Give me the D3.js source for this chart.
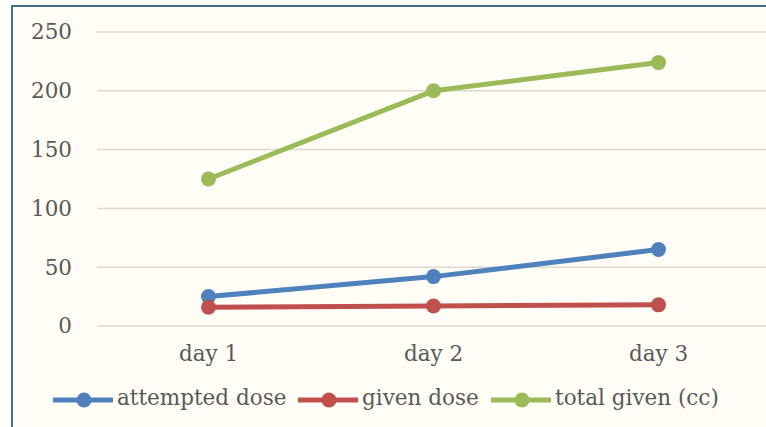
<!DOCTYPE html>
<html>
<head>
<meta charset="utf-8">
<script src="https://cdn.jsdelivr.net/npm/d3@7"></script>
<style>
  body { margin: 0; background: #ffffff; }
  text { font-family: "DejaVu Serif", serif; fill: #595959; }
</style>
</head>
<body>
<figure style="margin:0"></figure>
<script>
const days = ["day 1", "day 2", "day 3"];
const yTicks = [0, 50, 100, 150, 200, 250];
const seriesNames = ["attempted dose", "given dose", "total given (cc)"];
const attempted = [25, 42, 65];
const given = [16, 17, 18];
const totalGiven = [125, 200, 224];
const colours = ["#4f81bd", "#c0504d", "#9bbb59"];

const width = 766;
const height = 427;
const fontSize = "21.5px";

const svg = d3.select("figure").append("svg")
  .attr("width", width)
  .attr("height", height);

// chart area background + frame
svg.append("rect")
  .attr("x", 12).attr("y", 6)
  .attr("width", width + 10).attr("height", height + 10)
  .attr("fill", "#fffdf6")
  .attr("stroke", "#44708a")
  .attr("stroke-width", 2);

const x = d3.scaleBand().domain(days).range([96, 771]);
const y = d3.scaleLinear().domain([0, 250]).range([326, 32]);

// gridlines
svg.append("g")
  .selectAll("line")
  .data(yTicks)
  .join("line")
  .attr("x1", 97).attr("x2", width)
  .attr("y1", d => y(d)).attr("y2", d => y(d))
  .attr("stroke", "#ddd7d0")
  .attr("stroke-width", 1.5);

const yAxis = d3.axisLeft(y).tickValues(yTicks).tickSize(0).tickPadding(0);
svg.append("g")
  .attr("transform", "translate(72,0)")
  .call(yAxis)
  .call(g => g.select(".domain").remove())
  .selectAll("text")
  .style("font-family", "DejaVu Serif, serif")
  .style("font-size", fontSize)
  .attr("fill", "#595959");

const xAxis = d3.axisBottom(x).tickSize(0).tickPadding(0);
svg.append("g")
  .attr("transform", "translate(0,346)")
  .call(xAxis)
  .call(g => g.select(".domain").remove())
  .selectAll("text")
  .style("font-family", "DejaVu Serif, serif")
  .style("font-size", fontSize)
  .attr("fill", "#595959");

const series = [attempted, given, totalGiven].map((vals, i) => ({
  name: seriesNames[i],
  colour: colours[i],
  values: vals.map((v, j) => ({ day: days[j], value: v }))
}));

const line = d3.line()
  .x(d => x(d.day) + x.bandwidth() / 2)
  .y(d => y(d.value));

const sg = svg.append("g").selectAll("g").data(series).join("g");

sg.append("path")
  .attr("d", d => line(d.values))
  .attr("fill", "none")
  .attr("stroke", d => d.colour)
  .attr("stroke-width", 5)
  .attr("stroke-linejoin", "round");

sg.selectAll("circle")
  .data(d => d.values.map(v => ({ ...v, colour: d.colour })))
  .join("circle")
  .attr("cx", d => x(d.day) + x.bandwidth() / 2)
  .attr("cy", d => y(d.value))
  .attr("r", 7.5)
  .attr("fill", d => d.colour);

// legend
const legendX = [53, 298, 491];
const lg = svg.append("g").selectAll("g").data(series).join("g")
  .attr("transform", (d, i) => `translate(${legendX[i]},400)`);

lg.append("line")
  .attr("x1", 0).attr("x2", 60)
  .attr("stroke", d => d.colour)
  .attr("stroke-width", 5);

lg.append("circle")
  .attr("cx", 31).attr("r", 7.5)
  .attr("fill", d => d.colour);

lg.append("text")
  .attr("x", 64)
  .attr("dy", "0.25em")
  .style("font-size", fontSize)
  .text(d => d.name);
</script>
</body>
</html>
